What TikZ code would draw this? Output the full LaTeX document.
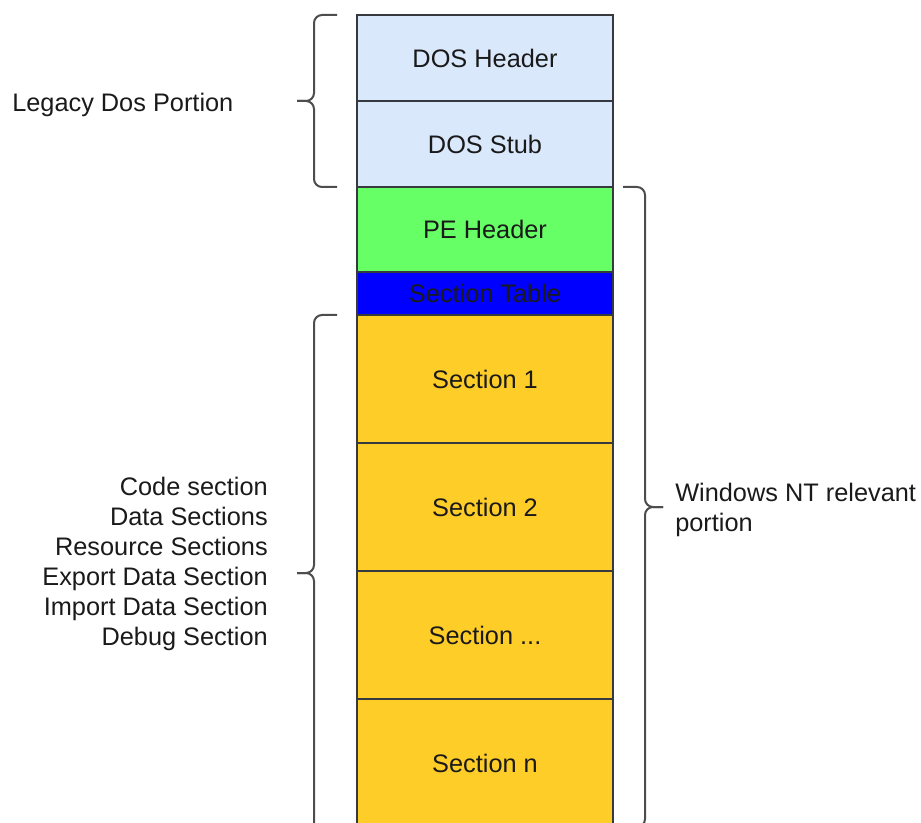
\documentclass[tikz,border=0pt]{standalone}
\usepackage{fontspec}
\setmainfont{Liberation Sans}
\usetikzlibrary{positioning}
\definecolor{dosblue}{HTML}{DAE8FC}
\definecolor{pegreen}{HTML}{66FF66}
\definecolor{tableblue}{HTML}{0000FF}
\definecolor{secyellow}{HTML}{FFCD28}
\definecolor{edgegray}{HTML}{36393D}
\definecolor{bracegray}{HTML}{4D4D4D}
\definecolor{textgray}{HTML}{1A1A1A}
\begin{document}
\begin{tikzpicture}[x=0.75pt,y=-0.75pt, % 1 unit = 1 pixel of the sketch
  part/.style={draw=edgegray, line width=1.5pt, minimum width=192pt,
    inner sep=0pt, outer sep=0pt, text=textgray,
    font=\fontsize{19}{22.5}\selectfont},
  bracket/.style={draw=bracegray, line width=1.5pt, rounded corners=6pt},
  label/.style={inner sep=0pt, text=textgray, font=\fontsize{19}{22.5}\selectfont}]
\useasboundingbox (0,0) rectangle (921,823);
\clip (0,0) rectangle (921,823);
% the file layout
\node[part, fill=dosblue, minimum height=64.5pt] (dosheader) at (485,58) {DOS Header};
\node[part, fill=dosblue, minimum height=64.5pt, below=0pt of dosheader] (dosstub) {DOS Stub};
\node[part, fill=pegreen, minimum height=63.75pt, below=0pt of dosstub] (peheader) {PE Header};
\node[part, fill=tableblue, minimum height=32.25pt, below=0pt of peheader] (sectable) {Section Table};
\node[part, fill=secyellow, minimum height=96pt, below=0pt of sectable] (sec1) {Section 1};
\node[part, fill=secyellow, minimum height=96pt, below=0pt of sec1] (sec2) {Section 2};
\node[part, fill=secyellow, minimum height=96pt, below=0pt of sec2] (secdots) {Section ...};
\node[part, fill=secyellow, minimum height=96pt, below=0pt of secdots] (secn) {Section n};
% braces
\draw[bracket] (337,15) -- (314,15) -- (314,101) -- (297,101);
\draw[bracket] (297,101) -- (314,101) -- (314,187) -- (337,187);
\draw[bracket] (623,187) -- (645,187) -- (645,507) -- (663,507);
\draw[bracket] (663,507) -- (645,507) -- (645,827) -- (623,827);
\draw[bracket] (337,315) -- (314,315) -- (314,573) -- (297,573);
\draw[bracket] (297,573) -- (314,573) -- (314,831) -- (337,831);
% brace labels
\node[label, anchor=west] (legacy) at (12,105) {Legacy Dos Portion};
\node[label, anchor=west, align=left] (ntpart) at (675,510) {Windows NT relevant\\portion};
\node[label, anchor=east, align=right] (seclist) at (268,564) {Code section\\Data Sections\\Resource Sections\\Export Data Section\\Import Data Section\\Debug Section};
\end{tikzpicture}
\end{document}
